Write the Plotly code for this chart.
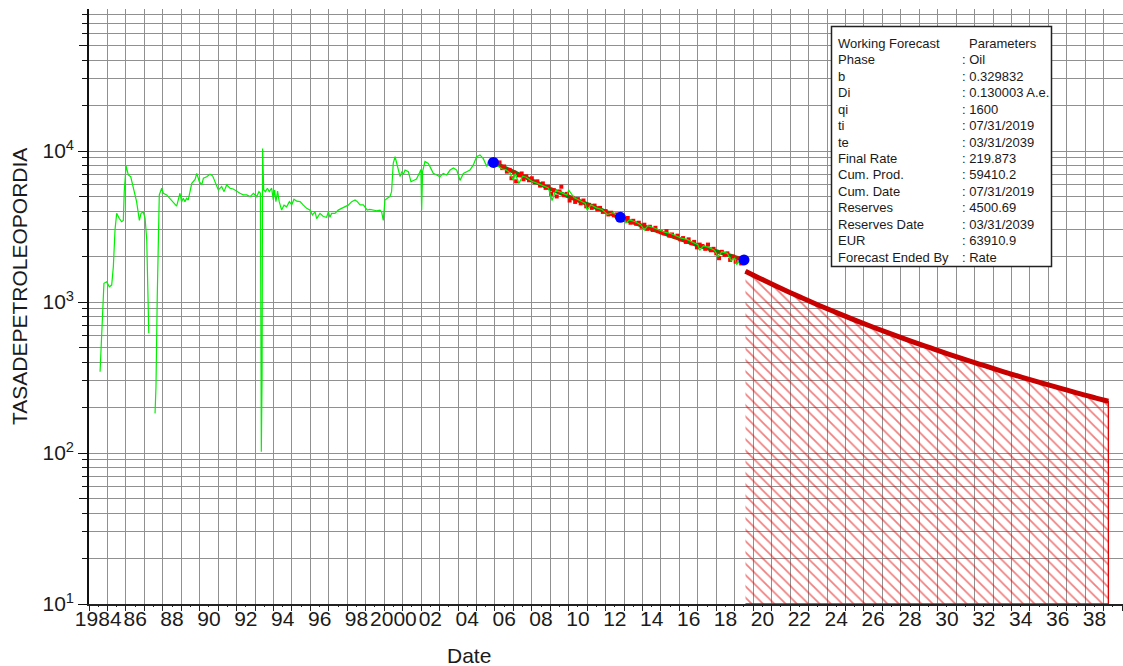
import plotly.graph_objects as go

# ---------------- data ----------------
hist_year = [1984.60, 1984.63, 1984.69, 1984.74, 1984.81, 1984.96, 1985.10, 1985.23, 1985.32, 1985.41,
             1985.50, 1985.64, 1985.77, 1985.86, 1985.91, 1986.01, 1986.13, 1986.26, 1986.40, 1986.58,
             1986.73, 1986.82, 1986.94, 1987.04, 1987.13, 1987.18, 1987.24, 1987.40,
             1987.58, 1987.63, 1987.70, 1987.76, 1987.81, 1987.94, 1988.03, 1988.21, 1988.39, 1988.57,
             1988.75, 1988.93, 1989.02, 1989.11, 1989.20, 1989.29, 1989.38, 1989.57, 1989.75, 1989.84,
             1989.98, 1990.11, 1990.20, 1990.38, 1990.56, 1990.70, 1990.83, 1991.01, 1991.19, 1991.32,
             1991.46, 1991.64, 1991.82, 1992.01, 1992.18, 1992.36, 1992.55, 1992.73, 1992.91, 1993.09,
             1993.21, 1993.29, 1993.34, 1993.38, 1993.41, 1993.47, 1993.56, 1993.67, 1993.77, 1993.90,
             1993.99, 1994.06, 1994.13, 1994.22, 1994.31, 1994.44, 1994.57, 1994.71, 1994.86, 1994.99,
             1995.11, 1995.26, 1995.44, 1995.62, 1995.80, 1995.98, 1996.11, 1996.25, 1996.34, 1996.52,
             1996.70, 1996.88, 1996.97, 1997.06, 1997.15, 1997.33, 1997.51, 1997.69, 1997.87, 1998.05,
             1998.24, 1998.42, 1998.54, 1998.69, 1998.87, 1999.01, 1999.08, 1999.22, 1999.40, 1999.59,
             1999.77, 1999.86, 1999.95, 2000.04, 2000.17, 2000.31, 2000.40, 2000.49, 2000.59, 2000.68,
             2000.77, 2000.86, 2000.95, 2001.04, 2001.13, 2001.31, 2001.45, 2001.57, 2001.75, 2001.90,
             2001.99, 2002.03, 2002.08, 2002.21, 2002.39, 2002.48, 2002.66, 2002.85, 2003.02, 2003.20,
             2003.39, 2003.57, 2003.75, 2003.93, 2004.11, 2004.29, 2004.47, 2004.65, 2004.83, 2005.01,
             2005.19, 2005.37, 2005.56, 2005.64, 2005.82,
             2006.0, 2006.2, 2006.4, 2006.6, 2006.8, 2007.0, 2007.1, 2007.3, 2007.5, 2007.7,
             2008.0, 2008.3, 2008.6, 2008.9, 2009.1, 2009.3, 2009.6, 2009.9, 2010.0, 2010.3,
             2010.6, 2010.9, 2011.0, 2011.2, 2011.5, 2011.8, 2012.1, 2012.4, 2012.7, 2013.0,
             2013.1, 2013.3, 2013.6, 2013.9, 2014.1, 2014.3, 2014.6, 2014.9, 2015.2, 2015.5,
             2015.8, 2016.1, 2016.4, 2016.7, 2017.0, 2017.1, 2017.3, 2017.6, 2017.9, 2018.1,
             2018.3, 2018.6, 2018.8, 2019.0, 2019.1, 2019.3, 2019.5]
hist_rate = [345, 413, 653, 980, 1330, 1362, 1262, 1295, 1715, 3000,
             3865, 3580, 3400, 3470, 5380, 7960, 6940, 6760, 5810, 4620,
             3470, 3865, 3960, 3580, 2580, 1085, 621, None,
             183, 275, 1085, 3320, 5120, 5670, 5250, 5120, 4860, 4620,
             4320, 5250, 4620, 4860, 4620, 4860, 4740, 6110, 6490, 7110,
             6260, 5960, 6600, 6760, 7010, 6850, 6260, 5520, 5810, 5380,
             5960, 5670, 5600, 5380, 5250, 5120, 5120, 4990, 5250, 4990,
             5380, 5250, 102, 320, 10400, 5520, 5380, 5670, 5380, 5670,
             4740, 5520, 4620, 5430, 4620, 4060, 4380, 4270, 4620, 4400,
             4790, 4650, 4620, 4380, 4170, 4060, 3770, 3950, 3570, 3860,
             3680, 3640, 3950, 3640, 3860, 3860, 4060, 4170, 4270, 4380,
             4620, 4740, 4620, 4400, 4400, 4170, 4060, 4100, 4060, 4020,
             4060, 3950, 3470, 4740, 4860, 4990, 5380, 8280, 9160, 8280,
             7300, 6760, 7300, 7000, 7480, 7300, 6260, 6390, 6530, 7110,
             7550, 4060, 7300, 8520, 8280, 7880, 7110, 6940, 6760, 7110,
             6940, 7480, 7720, 7480, 6390, 7110, 7300, 7480, 8090, 9160,
             9420, 8900, 7880, 8520, 8280,
             8200, 7900, 7600, 7500, 7200, 6400, 7100, 6100, 6800, 6700,
             6300, 6100, 5900, 5700, 4700, 5500, 5300, 5100, 5500, 4900,
             4700, 4500, 4060, 4400, 4200, 4100, 3800, 3900, 3700, 3550,
             3340, 3500, 3400, 3250, 3000, 3200, 3100, 3000, 2900, 2850,
             2750, 2650, 2600, 2500, 2400, 2200, 2350, 2300, 2200, 2000,
             2150, 2100, 1880, 1950, 1770, 1900, 1850]

red_year = [2005.85, 2006.0, 2006.1, 2006.25, 2006.4, 2006.5, 2006.65, 2006.8, 2006.9, 2007.05,
            2007.15, 2007.3, 2007.45, 2007.55, 2007.7, 2007.85, 2008.0, 2008.15, 2008.3, 2008.45,
            2008.6, 2008.75, 2008.9, 2009.05, 2009.2, 2009.35, 2009.5, 2009.6, 2009.75, 2009.9,
            2010.05, 2010.2, 2010.35, 2010.5, 2010.65, 2010.8, 2010.95, 2011.1, 2011.25, 2011.4,
            2011.55, 2011.7, 2011.85, 2012.0, 2012.15, 2012.3, 2012.45, 2012.6, 2012.75, 2012.9,
            2013.05, 2013.2, 2013.35, 2013.5, 2013.65, 2013.8, 2013.95, 2014.1, 2014.25, 2014.4,
            2014.55, 2014.7, 2014.85, 2015.0, 2015.15, 2015.3, 2015.45, 2015.6, 2015.75, 2015.9,
            2016.05, 2016.2, 2016.35, 2016.5, 2016.65, 2016.8, 2016.95, 2017.1, 2017.25, 2017.4,
            2017.55, 2017.7, 2017.85, 2018.0, 2018.15, 2018.3, 2018.45, 2018.6, 2018.75, 2018.9,
            2019.05, 2019.2, 2019.35, 2019.5]
red_rate = [8700, 8500, 8100, 8400, 7700, 7900, 7300, 7500, 6600, 7200,
            6300, 6900, 7100, 6500, 6800, 6400, 6600, 6200, 6300, 5900,
            6100, 5700, 5800, 5200, 5500, 5000, 5400, 5800, 5100, 5200,
            4700, 4900, 4600, 4800, 4500, 4700, 4300, 4400, 4200, 4350,
            4100, 4200, 3950, 4000, 3800, 3900, 3750, 3800, 3600, 3700,
            3500, 3600, 3350, 3450, 3300, 3350, 3150, 3250, 3050, 3150,
            3000, 3100, 2950, 2900, 2850, 2950, 2750, 2800, 2700, 2750,
            2600, 2650, 2500, 2600, 2450, 2500, 2300, 2400, 2350, 2250,
            2400, 2200, 2250, 2100, 1950, 2150, 2050, 2100, 1900, 2000,
            1850, 1950, 1800, 1900]

fit_year = [2005.92, 2007, 2008, 2009, 2010, 2011, 2012, 2012.8, 2013, 2014, 2015, 2016, 2017, 2018, 2019, 2019.5]
fit_rate = [8400, 7270, 6380, 5620, 4990, 4430, 3950, 3620, 3540, 3190, 2880, 2600, 2370, 2170, 1990, 1900]

blue_year = [2005.92, 2012.8, 2019.5]
blue_rate = [8400, 3640, 1900]

fc_year = [2019.58, 2020.58, 2021.58, 2022.58, 2023.58, 2024.58, 2025.58, 2026.58, 2027.58, 2028.58,
           2029.58, 2030.58, 2031.58, 2032.58, 2033.58, 2034.58, 2035.58, 2036.58, 2037.58, 2038.58, 2039.25]
fc_rate = [1600, 1392, 1218, 1073, 949, 844, 753, 675, 608, 549,
           498, 452, 412, 377, 345, 317, 292, 270, 249, 231, 220]

x_label_years = list(range(1984, 2039, 2))
x_labels = ["1984", "86", "88", "90", "92", "94", "96", "98", "2000", "02", "04", "06", "08", "10",
            "12", "14", "16", "18", "20", "22", "24", "26", "28", "30", "32", "34", "36", "38"]
y_decades = [10, 100, 1000, 10000]
y_decade_text = ["10<sup>1</sup>", "10<sup>2</sup>", "10<sup>3</sup>", "10<sup>4</sup>"]
y_fives = [50, 500, 5000, 50000]
y_minor = [k * 10 ** d for d in range(1, 5) for k in (2, 3, 4, 5, 6, 7, 8, 9)]

legend_labels = ["Working Forecast", "Phase", "b", "Di", "qi", "ti", "te", "Final Rate", "Cum. Prod.",
                 "Cum. Date", "Reserves", "Reserves Date", "EUR", "Forecast Ended By"]
legend_values = ["Parameters", ": Oil", ": 0.329832", ": 0.130003 A.e.", ": 1600", ": 07/31/2019",
                 ": 03/31/2039", ": 219.873", ": 59410.2", ": 07/31/2019", ": 4500.69", ": 03/31/2039",
                 ": 63910.9", ": Rate"]

# ---------------- layout geometry ----------------
W, H = 1123, 666
ML, MR, MT, MB = 89, 0, 9, 62
PW, PH = W - ML - MR, H - MT - MB
X0 = 1984.0
PX_PER_YEAR = 18.45
X1 = X0 + PW / PX_PER_YEAR
Y_TOP = 1 + PH / 151.0

def px(xp):
    return (xp - ML) / PW

def py(yp):
    return (H - MB - yp) / PH

GRID = "#909090"
FONT = "Arial, 'Liberation Sans', sans-serif"
TXT = "#1a1a1a"

fig = go.Figure()

# hatched forecast area
fig.add_trace(go.Scatter(
    x=fc_year + [fc_year[-1], fc_year[0]], y=fc_rate + [10, 10],
    mode="lines", fill="toself", line=dict(color="#e00000", width=1.3),
    fillcolor="rgba(0,0,0,0)",
    fillpattern=dict(shape="\\", fgcolor="#e00000", bgcolor="rgba(0,0,0,0)", size=8, solidity=0.22),
    hoverinfo="skip", showlegend=False))

fig.add_trace(go.Scatter(x=fit_year, y=fit_rate, mode="lines",
                         line=dict(color="#0a800a", width=4), showlegend=False))
fig.add_trace(go.Scatter(x=red_year, y=red_rate, mode="markers",
                         marker=dict(color="#ff0000", size=4, symbol="square"), showlegend=False))
fig.add_trace(go.Scatter(x=hist_year, y=hist_rate, mode="lines", connectgaps=False,
                         line=dict(color="#00f000", width=1.2), showlegend=False))
fig.add_trace(go.Scatter(x=fc_year, y=fc_rate, mode="lines", line_shape="spline",
                         line=dict(color="#c80000", width=5), showlegend=False))
fig.add_trace(go.Scatter(x=blue_year, y=blue_rate, mode="markers",
                         marker=dict(color="#0000ff", size=11, symbol="circle"), showlegend=False))
# carrier for the extra tick axes (half-year x ticks, 5x y ticks)
fig.add_trace(go.Scatter(x=[2000], y=[100], xaxis="x2", yaxis="y2", mode="markers",
                         marker=dict(opacity=0), hoverinfo="skip", showlegend=False))

fig.update_layout(
    width=W, height=H, margin=dict(l=ML, r=MR, t=MT, b=MB),
    paper_bgcolor="white", plot_bgcolor="white",
    font=dict(family=FONT, color=TXT),
    xaxis=dict(range=[X0, X1], tickmode="array",
               tickvals=[y + 0.5 for y in x_label_years], ticktext=x_labels, tickangle=0,
               ticks="", ticklabelstandoff=-5,
               showgrid=False, zeroline=False, showline=True, linecolor="#222", linewidth=1.6,
               tickfont=dict(size=21, color=TXT, family=FONT),
               minor=dict(tickmode="array", tickvals=list(range(1984, 2041)), showgrid=True,
                          gridcolor=GRID, gridwidth=1.4, ticks="outside", ticklen=5,
                          tickcolor="#222", tickwidth=1.2)),
    xaxis2=dict(range=[X0, X1], overlaying="x", anchor="y", side="bottom", tickmode="array",
                tickvals=[y + 0.5 for y in range(1984, 2040)], ticks="outside", ticklen=2,
                tickcolor="#222", tickwidth=1.2, showticklabels=False, showgrid=False,
                zeroline=False, showline=False),
    yaxis=dict(type="log", range=[1, Y_TOP], tickmode="array", tickvals=y_decades, ticktext=y_decade_text,
               ticks="outside", ticklen=9, tickcolor="#111", tickwidth=1.4,
               showgrid=True, gridcolor=GRID, gridwidth=1.4, zeroline=False,
               showline=True, linecolor="#111", linewidth=1.6,
               tickfont=dict(size=21, color=TXT, family=FONT),
               minor=dict(tickmode="array", tickvals=y_minor, ticks="outside", ticklen=5,
                          tickcolor="#111", tickwidth=1.2, showgrid=True, gridcolor=GRID, gridwidth=1.4)),
    yaxis2=dict(type="log", range=[1, Y_TOP], overlaying="y", anchor="x", side="left",
                tickmode="array", tickvals=y_fives, ticks="outside", ticklen=9, tickcolor="#111",
                tickwidth=1.4, showticklabels=False, showgrid=False, zeroline=False, showline=False),
)

annotations = [
    dict(text="TASADEPETROLEOPORDIA", x=px(19), y=py(287), xref="paper", yref="paper",
         textangle=-90, showarrow=False, font=dict(size=21, color=TXT, family=FONT),
         xanchor="center", yanchor="middle"),
    dict(text="Date", x=px(469), y=py(655), xref="paper", yref="paper", showarrow=False,
         font=dict(size=21, color=TXT, family=FONT), xanchor="center", yanchor="middle"),
]
ROW0, ROWH = 43.3, 16.46
for i, (lab, val) in enumerate(zip(legend_labels, legend_values)):
    yy = py(ROW0 + i * ROWH)
    annotations.append(dict(text=lab, x=px(837), y=yy, xref="paper", yref="paper", showarrow=False,
                            xanchor="left", yanchor="middle", borderpad=0,
                            font=dict(size=13, color=TXT, family=FONT)))
    annotations.append(dict(text=val, x=px(968 if i == 0 else 960.5), y=yy, xref="paper", yref="paper",
                            showarrow=False, xanchor="left", yanchor="middle", borderpad=0,
                            font=dict(size=13, color=TXT, family=FONT)))
fig.update_layout(annotations=annotations)

fig.add_shape(type="rect", xref="paper", yref="paper", x0=px(831.5), x1=px(1051.5),
              y0=py(266.5), y1=py(26.5), line=dict(color="#222", width=1.5), fillcolor="white",
              layer="above")

fig.write_html("out.html", config={"displayModeBar": False},
               post_script="document.body.style.margin='0';")
